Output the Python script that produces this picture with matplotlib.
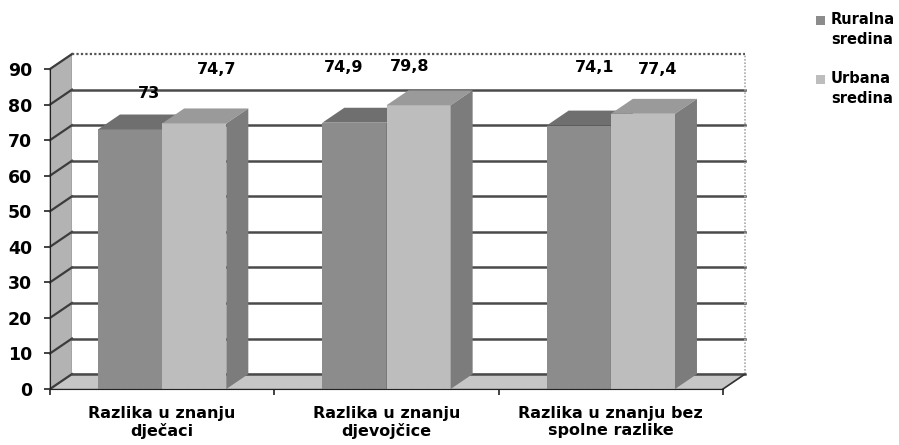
import matplotlib.pyplot as plt
from matplotlib.patches import Polygon, Rectangle
from matplotlib.lines import Line2D

# Podaci
categories = ['Razlika u znanju\ndječaci', 'Razlika u znanju\ndjevojčice',
              'Razlika u znanju bez\nspolne razlike']
series_names = ['Ruralna\nsredina', 'Urbana\nsredina']
ruralna = [73, 74.9, 74.1]
urbana = [74.7, 79.8, 77.4]
value_labels = [['73', '74,9', '74,1'], ['74,7', '79,8', '77,4']]
yticks = [0, 10, 20, 30, 40, 50, 60, 70, 80, 90]

# Izgled (3D efekt)
front = ['#8c8c8c', '#bdbdbd']
top = ['#6f6f6f', '#9a9a9a']
side = ['#6a6a6a', '#7c7c7c']
dx, dy = 0.098, 4.2          # pomak dubine (kategorija, vrijednost)
w = 0.286                    # sirina stupca
lab_dx = [[0.085, -0.05, 0.07], [0.10, -0.04, 0.067]]
lab_y = [[83.2, 90.5, 90.5], [90.0, 90.8, 90.0]]

plt.rcParams['font.family'] = ['DejaVu Sans']
plt.rcParams['font.weight'] = 'bold'

fig = plt.figure(figsize=(8.99, 4.45), dpi=100)
ax = fig.add_axes([50 / 899, 56 / 445, 673 / 899, 320 / 445])
ax.set_xlim(0, 3)
ax.set_ylim(0, 90)
ax.patch.set_visible(False)
n = len(categories)
ymax = yticks[-1]

# bocni zid
ax.add_patch(Polygon([(0, 0), (dx, dy), (dx, ymax + dy), (0, ymax)],
                     facecolor='#b3b3b3', edgecolor='#9a9a9a', lw=0.8, clip_on=False, zorder=1))
# straznji zid
ax.add_patch(Rectangle((dx, dy), n, ymax, facecolor='white', edgecolor='none',
                       clip_on=False, zorder=1))
# pod
ax.add_patch(Polygon([(0, 0), (n, 0), (n + dx, dy), (dx, dy)],
                     facecolor='#c6c6c6', edgecolor='#a0a0a0', lw=0.8, clip_on=False, zorder=1))

# mreza
for v in yticks:
    ax.add_line(Line2D([0, dx], [v, v + dy], color='#3c3c3c', lw=1.6, clip_on=False, zorder=2))
    if v < ymax:
        ax.add_line(Line2D([dx, n + dx], [v + dy, v + dy], color='#4a4a4a', lw=1.8,
                           clip_on=False, zorder=2))
ax.add_line(Line2D([dx, n + dx], [ymax + dy, ymax + dy], color='#555555', lw=1.6,
                   ls=(0, (1, 1)), clip_on=False, zorder=2))
ax.add_line(Line2D([n + dx, n + dx], [dy, ymax + dy], color='#aaaaaa', lw=1.2,
                   ls=(0, (1, 1)), clip_on=False, zorder=2))
ax.add_line(Line2D([n, n + dx], [0, dy], color='#333333', lw=1.2, clip_on=False, zorder=2))

# stupci
for i in range(n):
    for j, vals in enumerate([ruralna, urbana]):
        v = vals[i]
        x0 = i + 0.5 - w + j * w
        z = 3 + j
        ax.add_patch(Rectangle((x0, 0), w, v, facecolor=front[j], edgecolor='none', zorder=z))
        ax.add_patch(Polygon([(x0, v), (x0 + w, v), (x0 + w + dx, v + dy), (x0 + dx, v + dy)],
                             facecolor=top[j], edgecolor='none', clip_on=False, zorder=z))
        ax.add_patch(Polygon([(x0 + w, 0), (x0 + w + dx, dy), (x0 + w + dx, v + dy), (x0 + w, v)],
                             facecolor=side[j], edgecolor='none', clip_on=False, zorder=z))
        ax.text(x0 + w / 2 + lab_dx[j][i], lab_y[j][i], value_labels[j][i],
                ha='center', va='center', fontsize=11.5, fontweight='bold', zorder=10)

# osi
for s in ['top', 'right']:
    ax.spines[s].set_visible(False)
ax.spines['left'].set_color('#222222')
ax.spines['bottom'].set_color('#222222')
ax.spines['bottom'].set_linestyle((0, (1, 0.6)))
ax.spines['left'].set_zorder(6)
ax.spines['bottom'].set_zorder(6)
ax.set_yticks(yticks)
ax.set_yticklabels([str(t) for t in yticks], fontsize=12.5, fontweight='bold')
ax.set_xticks(range(n + 1))
ax.set_xticklabels([])
ax.set_xticks([i + 0.5 for i in range(n)], minor=True)
ax.set_xticklabels(categories, minor=True, fontsize=11.5, fontweight='bold', linespacing=1.2)
ax.tick_params(axis='x', which='minor', length=0, pad=12)
ax.tick_params(axis='both', which='major', length=4, width=1.2, color='#222222')
ax.tick_params(axis='y', which='major', pad=9)

# legenda (kvadrat poravnat s prvim redom teksta)
for k, name in enumerate(series_names):
    ty = 1 - (20 + 59 * k) / 445
    fig.patches.append(Rectangle((816 / 899, ty - 4.5 / 445), 9 / 899, 9 / 445,
                                 transform=fig.transFigure, facecolor=front[k],
                                 edgecolor='none'))
    fig.text(831 / 899, ty + 8 / 445, name, ha='left', va='top', fontsize=10.5,
             fontweight='bold', linespacing=1.45)

fig.savefig('out.png', dpi=100)
